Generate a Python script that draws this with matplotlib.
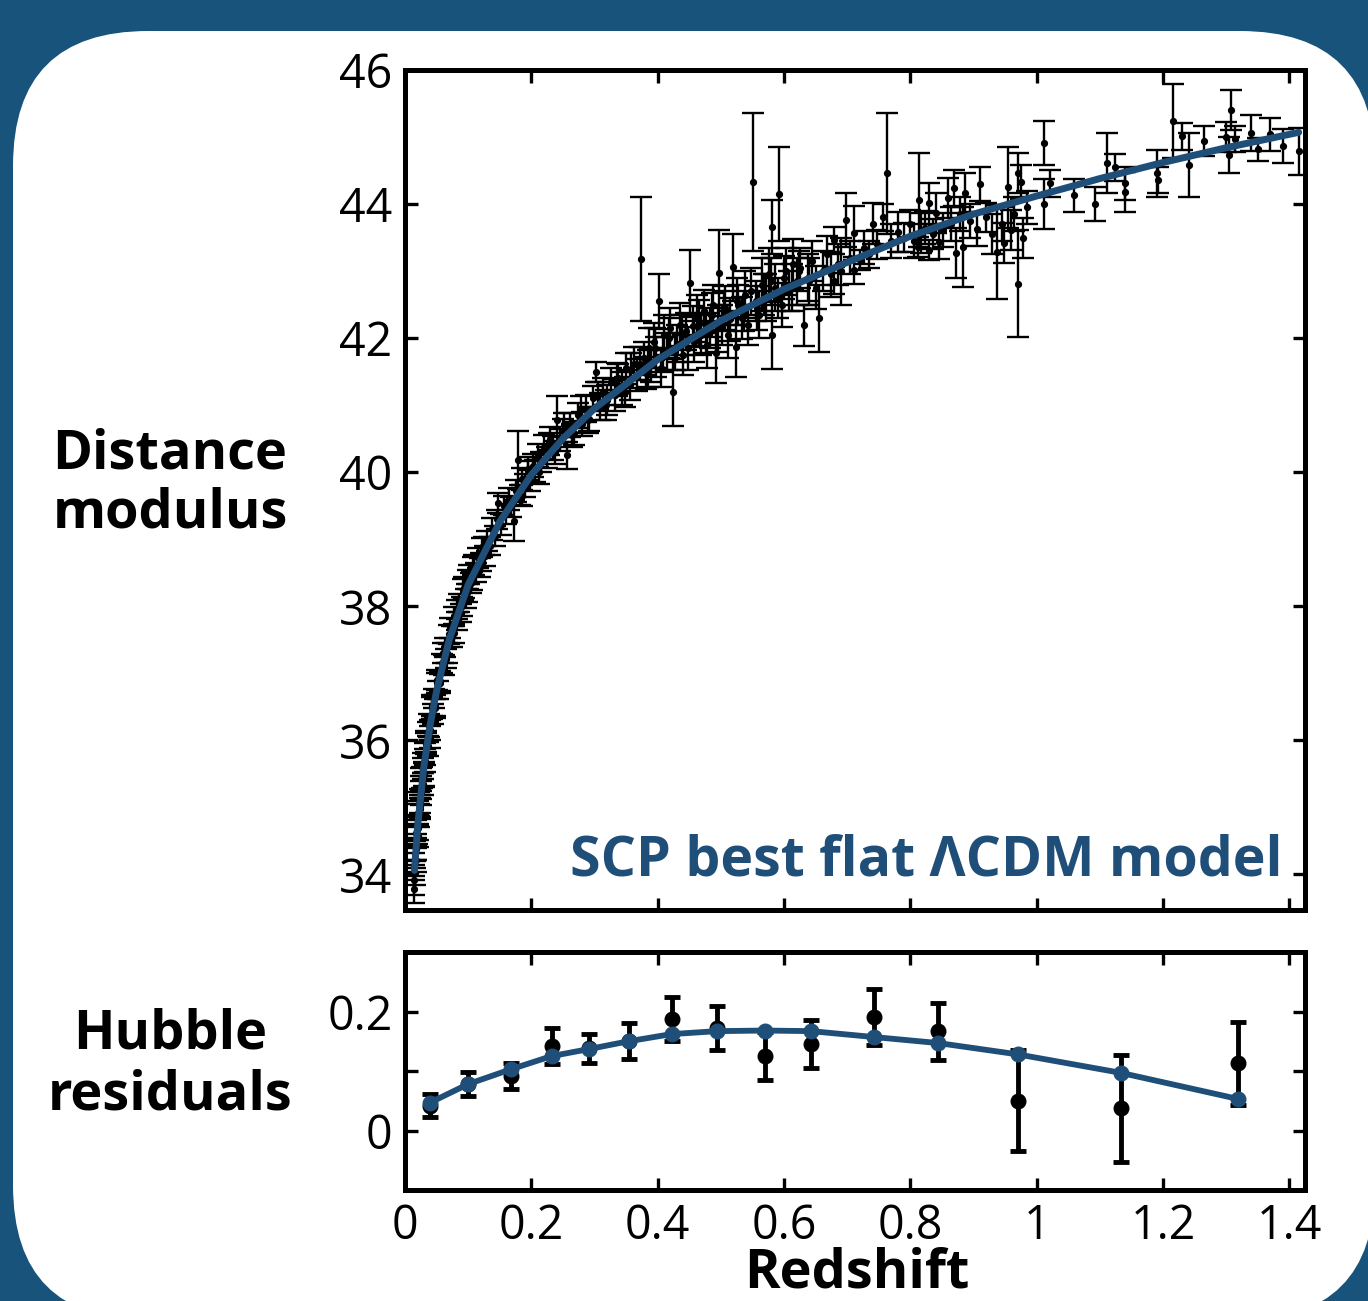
import numpy as np
import matplotlib
matplotlib.use('Agg')
from matplotlib import pyplot as plt
from matplotlib.patches import FancyBboxPatch
from matplotlib.transforms import IdentityTransform

BG = '#17537a'
BLUE = '#1f4f78'

plt.rcParams['font.family'] = ['Open Sans', 'DejaVu Sans']

###############################################################################
# supernovae: redshift, distance modulus, error
z_low = [0.014, 0.015, 0.016, 0.016, 0.017, 0.018, 0.019, 0.020, 0.021, 0.022,
         0.023, 0.024, 0.025, 0.026, 0.027, 0.028, 0.029, 0.030, 0.031, 0.032,
         0.034, 0.036, 0.038, 0.040, 0.042, 0.044, 0.046, 0.048, 0.050, 0.052,
         0.055, 0.058, 0.061, 0.064, 0.067, 0.070, 0.074, 0.078, 0.082, 0.086,
         0.090, 0.094, 0.098, 0.100, 0.104, 0.108, 0.112, 0.116, 0.120, 0.125,
         0.015, 0.017, 0.018, 0.020, 0.022, 0.024, 0.026, 0.028, 0.030, 0.033,
         0.036, 0.039, 0.043, 0.047, 0.051, 0.056, 0.060, 0.065, 0.072, 0.077,
         0.083, 0.088, 0.092, 0.096, 0.102, 0.106, 0.110, 0.118, 0.122, 0.127]
mu_low = [33.92, 34.12, 34.02, 34.30, 34.41, 34.38, 34.66, 34.70, 34.91, 34.88,
          35.10, 35.02, 35.30, 35.21, 35.45, 35.35, 35.66, 35.50, 35.80, 35.70,
          35.98, 35.92, 36.22, 36.15, 36.48, 36.40, 36.62, 36.52, 36.86, 36.75,
          36.88, 37.15, 37.12, 37.38, 37.30, 37.58, 37.55, 37.85, 37.78, 38.05,
          38.00, 38.28, 38.20, 38.40, 38.35, 38.60, 38.50, 38.72, 38.66, 38.90,
          33.78, 34.22, 34.62, 34.58, 35.05, 34.98, 35.42, 35.58, 35.48, 35.95,
          36.12, 36.05, 36.52, 36.48, 36.90, 36.85, 37.30, 37.22, 37.68, 37.60,
          37.95, 37.90, 38.25, 38.12, 38.48, 38.38, 38.62, 38.58, 38.88, 38.75]
err_low = [0.22, 0.20, 0.18, 0.20, 0.19, 0.17, 0.20, 0.18, 0.19, 0.17,
           0.18, 0.16, 0.17, 0.18, 0.16, 0.17, 0.15, 0.18, 0.16, 0.17,
           0.16, 0.15, 0.17, 0.15, 0.16, 0.15, 0.14, 0.16, 0.15, 0.14,
           0.15, 0.14, 0.15, 0.14, 0.15, 0.14, 0.15, 0.14, 0.13, 0.14,
           0.14, 0.15, 0.13, 0.14, 0.15, 0.13, 0.14, 0.15, 0.13, 0.14,
           0.20, 0.18, 0.19, 0.17, 0.18, 0.16, 0.17, 0.16, 0.18, 0.16,
           0.15, 0.16, 0.15, 0.14, 0.15, 0.14, 0.15, 0.14, 0.15, 0.14,
           0.14, 0.13, 0.15, 0.14, 0.14, 0.13, 0.15, 0.14, 0.14, 0.15]

z_mid = [0.130, 0.134, 0.138, 0.142, 0.146, 0.148, 0.152, 0.156, 0.160, 0.164,
         0.168, 0.173, 0.176, 0.179, 0.182, 0.186, 0.190, 0.194, 0.198, 0.202,
         0.206, 0.210, 0.215, 0.220, 0.225, 0.230, 0.235, 0.240, 0.245, 0.250,
         0.257, 0.262, 0.268, 0.274, 0.280, 0.286, 0.292, 0.298, 0.302, 0.308,
         0.314, 0.320, 0.326, 0.332, 0.338, 0.344, 0.350, 0.356, 0.362, 0.368,
         0.185, 0.195, 0.212, 0.228, 0.238, 0.252, 0.265, 0.278, 0.290, 0.305,
         0.318, 0.335, 0.348, 0.358, 0.372, 0.385, 0.396, 0.408, 0.418, 0.428]
mu_mid = [38.98, 38.90, 39.15, 39.05, 39.30, 39.54, 39.22, 39.50, 39.38, 39.60,
          39.48, 39.28, 39.72, 40.18, 39.66, 39.90, 39.80, 40.02, 39.88, 40.10,
          40.02, 40.25, 40.15, 40.38, 40.22, 40.50, 40.36, 40.78, 40.48, 40.62,
          40.25, 40.70, 40.58, 40.85, 40.72, 40.95, 40.80, 41.10, 41.49, 40.98,
          41.20, 41.08, 41.35, 41.15, 41.40, 41.25, 41.55, 41.30, 41.62, 41.45,
          39.65, 40.05, 40.00, 40.42, 40.30, 40.70, 40.55, 40.95, 40.78, 41.15,
          41.00, 41.38, 41.20, 41.52, 41.62, 41.55, 41.85, 41.75, 42.00, 41.80]
err_mid = [0.15, 0.14, 0.16, 0.15, 0.14, 0.15, 0.16, 0.14, 0.15, 0.16,
           0.15, 0.30, 0.16, 0.43, 0.15, 0.16, 0.17, 0.15, 0.16, 0.17,
           0.16, 0.17, 0.15, 0.18, 0.16, 0.17, 0.18, 0.35, 0.16, 0.17,
           0.20, 0.18, 0.17, 0.19, 0.18, 0.20, 0.18, 0.19, 0.15, 0.20,
           0.20, 0.22, 0.20, 0.24, 0.22, 0.25, 0.23, 0.22, 0.25, 0.24,
           0.16, 0.17, 0.18, 0.16, 0.17, 0.18, 0.17, 0.18, 0.19, 0.20,
           0.22, 0.25, 0.22, 0.26, 0.25, 0.28, 0.30, 0.26, 0.30, 0.28]

z_high = [0.373, 0.378, 0.382, 0.386, 0.390, 0.394, 0.398, 0.402, 0.406, 0.410,
          0.415, 0.420, 0.425, 0.430, 0.435, 0.440, 0.445, 0.452, 0.458, 0.463,
          0.468, 0.473, 0.478, 0.483, 0.488, 0.492, 0.497, 0.502, 0.507, 0.512,
          0.519, 0.524, 0.528, 0.533, 0.538, 0.543, 0.551, 0.556, 0.561, 0.566,
          0.571, 0.576, 0.581, 0.581, 0.586, 0.592, 0.597, 0.603, 0.608, 0.614,
          0.620, 0.626, 0.632, 0.638, 0.644, 0.650, 0.656, 0.662, 0.668, 0.674,
          0.679, 0.679, 0.685, 0.690, 0.698, 0.705, 0.711, 0.711, 0.720, 0.727,
          0.438, 0.448, 0.456, 0.466, 0.476, 0.486, 0.495, 0.505, 0.515, 0.526,
          0.536, 0.548, 0.558, 0.568, 0.579, 0.590, 0.600, 0.612, 0.624, 0.640]
mu_high = [43.18, 41.70, 41.48, 41.85, 41.60, 41.95, 41.72, 42.55, 41.55, 42.05,
           41.80, 42.15, 41.19, 41.92, 42.20, 41.75, 42.10, 42.82, 41.95, 42.30,
           42.05, 42.40, 41.90, 42.15, 42.50, 41.78, 42.97, 42.20, 42.45, 42.05,
           43.06, 41.87, 42.50, 42.30, 42.65, 42.20, 44.33, 42.55, 42.35, 42.80,
           42.60, 42.95, 43.66, 42.04, 42.75, 44.15, 42.50, 43.00, 42.70, 43.10,
           42.85, 43.05, 42.19, 42.90, 43.15, 42.75, 42.30, 43.00, 43.25, 42.95,
           43.46, 42.86, 43.10, 43.00, 43.76, 43.20, 43.57, 43.01, 43.16, 43.35,
           42.05, 41.85, 42.18, 42.22, 42.08, 42.35, 42.15, 42.40, 42.28, 42.55,
           42.40, 42.70, 42.45, 42.65, 42.85, 42.60, 42.90, 42.75, 43.00, 42.85]
err_high = [0.93, 0.25, 0.24, 0.30, 0.26, 0.28, 0.30, 0.41, 0.28, 0.30,
            0.28, 0.30, 0.50, 0.28, 0.32, 0.30, 0.28, 0.50, 0.30, 0.35,
            0.30, 0.32, 0.35, 0.30, 0.30, 0.45, 0.64, 0.30, 0.33, 0.35,
            0.50, 0.45, 0.30, 0.32, 0.35, 0.30, 1.03, 0.30, 0.35, 0.40,
            0.35, 0.40, 0.40, 0.50, 0.35, 0.70, 0.33, 0.35, 0.30, 0.38,
            0.35, 0.30, 0.30, 0.35, 0.30, 0.32, 0.50, 0.30, 0.28, 0.33,
            0.20, 0.20, 0.30, 0.50, 0.40, 0.25, 0.40, 0.20, 0.15, 0.25,
            0.30, 0.32, 0.30, 0.35, 0.30, 0.33, 0.35, 0.30, 0.32, 0.35,
            0.30, 0.35, 0.33, 0.30, 0.35, 0.30, 0.32, 0.35, 0.30, 0.35]

z_far = [0.735, 0.741, 0.748, 0.757, 0.763, 0.770, 0.781, 0.790, 0.800, 0.806,
         0.812, 0.814, 0.817, 0.823, 0.829, 0.830, 0.836, 0.841, 0.845, 0.852,
         0.859, 0.865, 0.870, 0.873, 0.878, 0.883, 0.886, 0.895, 0.905, 0.911,
         0.920, 0.929, 0.937, 0.945, 0.949, 0.954, 0.960, 0.965, 0.971, 0.971,
         0.975, 0.978, 0.985, 1.011, 1.011, 1.021, 1.059, 1.092,
         1.111, 1.124, 1.140, 1.140, 1.190, 1.192, 1.216, 1.230, 1.241, 1.265,
         1.300, 1.305, 1.308, 1.314, 1.340, 1.351, 1.370, 1.390, 1.416]
mu_far = [43.25, 43.71, 43.40, 43.80, 44.46, 43.45, 43.58, 43.50, 43.71, 43.45,
          43.36, 44.06, 43.57, 43.65, 44.01, 43.31, 43.55, 43.87, 43.43, 43.61,
          44.09, 43.70, 44.24, 43.27, 43.85, 43.36, 44.17, 43.75, 43.63, 44.30,
          43.80, 43.55, 43.28, 43.70, 43.42, 44.25, 43.61, 43.85, 42.81, 44.46,
          44.33, 43.49, 43.95, 44.91, 44.00, 44.31, 44.13, 44.00,
          44.61, 44.55, 44.31, 44.18, 44.46, 44.36, 45.24, 45.01, 44.58, 44.94,
          45.00, 44.73, 45.40, 44.97, 45.06, 44.82, 45.04, 44.87, 44.79]
err_far = [0.20, 0.30, 0.22, 0.20, 0.90, 0.25, 0.30, 0.22, 0.20, 0.25,
           0.15, 0.70, 0.30, 0.25, 0.30, 0.15, 0.22, 0.30, 0.25, 0.25,
           0.30, 0.25, 0.27, 0.38, 0.25, 0.60, 0.30, 0.25, 0.25, 0.25,
           0.22, 0.30, 0.70, 0.25, 0.30, 0.60, 0.30, 0.25, 0.80, 0.30,
           0.25, 0.30, 0.25, 0.33, 0.37, 0.20, 0.25, 0.25,
           0.45, 0.20, 0.25, 0.30, 0.35, 0.20, 0.55, 0.20, 0.48, 0.23,
           0.23, 0.27, 0.30, 0.20, 0.27, 0.17, 0.25, 0.25, 0.35]

# best flat LCDM curve
z_model = [0.015, 0.02, 0.03, 0.04, 0.05, 0.07, 0.10, 0.15, 0.20, 0.25, 0.30,
           0.40, 0.50, 0.60, 0.70, 0.80, 0.90, 1.00, 1.10, 1.20, 1.30, 1.415]
mu_model = [34.06, 34.72, 35.62, 36.24, 36.74, 37.50, 38.32, 39.26, 39.96, 40.50,
            40.95, 41.68, 42.26, 42.73, 43.13, 43.52, 43.85, 44.12, 44.38, 44.62,
            44.84, 45.07]

# binned Hubble residuals
z_bin = [0.040, 0.100, 0.168, 0.232, 0.292, 0.354, 0.422, 0.494, 0.570, 0.643,
         0.743, 0.844, 0.970, 1.133, 1.319]
res_bin = [0.042, 0.078, 0.092, 0.142, 0.138, 0.150, 0.188, 0.172, 0.125, 0.145,
           0.190, 0.167, 0.050, 0.037, 0.113]
res_err = [0.020, 0.020, 0.022, 0.030, 0.025, 0.030, 0.037, 0.037, 0.040, 0.040,
           0.047, 0.048, 0.085, 0.090, 0.070]
res_model = [0.047, 0.078, 0.103, 0.125, 0.137, 0.150, 0.162, 0.167, 0.168, 0.167,
             0.157, 0.147, 0.128, 0.097, 0.053]

###############################################################################
W, H = 1368, 1301
fig = plt.figure(figsize=(W / 100, H / 100), dpi=100)
fig.patch.set_facecolor(BG)
# white rounded card, in pixels: left 13, right 1375, top 31, bottom 1320
R = 135
cx0, cx1, cy_top, cy_bot = 13, 1375, 31, 1320
card = FancyBboxPatch((cx0 + R, H - cy_bot + R), cx1 - cx0 - 2 * R,
                      cy_bot - cy_top - 2 * R,
                      boxstyle='round,pad=%d' % R, fc='white', ec='none',
                      transform=IdentityTransform(), zorder=-5)
fig.patches.append(card)


def px_axes(l, t, r, b):
    return fig.add_axes([l / W, 1 - b / H, (r - l) / W, (b - t) / H])


def style(ax):
    for s in ax.spines.values():
        s.set_linewidth(3.6)
    ax.tick_params(direction='in', length=9, width=2.4, top=True, right=True,
                   labelsize=33.5, pad=9)


###############################################################################
ax = px_axes(405, 70, 1305, 910)
style(ax)
z_sn = z_low + z_mid + z_high + z_far
mu_sn = mu_low + mu_mid + mu_high + mu_far
err_sn = err_low + err_mid + err_high + err_far
ax.errorbar(z_sn, mu_sn, yerr=err_sn, fmt='o', color='black', ms=4.2,
            elinewidth=1.7, capsize=8, capthick=1.7, zorder=2)
ax.plot(z_model, mu_model, color=BLUE, lw=5, solid_capstyle='round', zorder=3)
ax.set_xlim(0, 1.425)
ax.set_ylim(33.47, 46)
ax.set_xticks(np.arange(0, 1.41, 0.2))
ax.set_xticklabels([])
ax.set_yticks([34, 36, 38, 40, 42, 44, 46])
ax.text(0.975, 0.025, 'SCP best flat \u039bCDM model', transform=ax.transAxes,
        ha='right', va='bottom', color=BLUE, fontsize=40, fontweight='bold')

###############################################################################
ax2 = px_axes(405, 952, 1305, 1190)
style(ax2)
ax2.errorbar(z_bin, res_bin, yerr=res_err, fmt='o', color='black', ms=10.5,
             elinewidth=3.5, capsize=5.5, capthick=3.5, zorder=2)
ax2.plot(z_bin, res_model, '-o', color=BLUE, lw=4.2, ms=10.5, zorder=3)
ax2.set_xlim(0, 1.425)
ax2.set_ylim(-0.1, 0.3)
ax2.set_xticks(np.arange(0, 1.41, 0.2))
ax2.set_xticklabels(['0', '0.2', '0.4', '0.6', '0.8', '1', '1.2', '1.4'])
ax2.set_yticks([0, 0.1, 0.2])
ax2.set_yticklabels(['0', '', '0.2'])

###############################################################################
fig.text(170 / W, 1 - 484 / H, 'Distance\nmodulus', ha='center', va='center',
         fontsize=39, fontweight='bold', linespacing=1.12)
fig.text(170 / W, 1 - 1065 / H, 'Hubble\nresiduals', ha='center', va='center',
         fontsize=39, fontweight='bold', linespacing=1.18)
fig.text(857 / W, 1 - 1300 / H, 'Redshift', ha='center', va='bottom',
         fontsize=39, fontweight='bold')

fig.savefig('out.png', dpi=100, facecolor=BG)
